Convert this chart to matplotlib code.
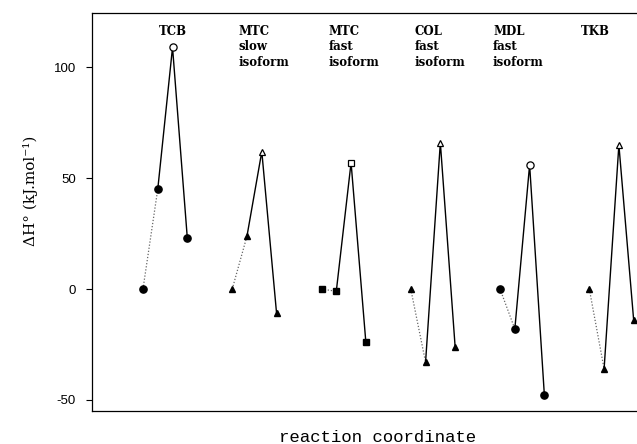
import matplotlib
matplotlib.use("Agg")
import matplotlib.pyplot as plt

# Data: enthalpy profile per enzyme, four states along the reaction coordinate
groups = ["TCB", "MTC\nslow\nisoform", "MTC\nfast\nisoform",
          "COL\nfast\nisoform", "MDL\nfast\nisoform", "TKB"]
tcb = [0, 45, 109, 23]
mtc_slow = [0, 24, 62, -11]
mtc_fast = [0, -1, 57, -24]
col_fast = [0, -33, 66, -26]
mdl_fast = [0, -18, 56, -48]
tkb = [0, -36, 65, -14]
series = [tcb, mtc_slow, mtc_fast, col_fast, mdl_fast, tkb]
markers = ["o", "^", "s", "^", "o", "^"]
yticks = [-50, 0, 50, 100]

# layout
group_gap = 6.04
label_x = [2.0, 8.2, 14.3, 20.1, 25.4, 30.6]
marker_sizes = {"o": 5.2, "^": 5.0, "s": 4.4}

fig = plt.figure(figsize=(6.37, 4.44), dpi=100)
ax = fig.add_axes([0.1444, 0.0743, 0.855, 0.8964])

for g, (vals, m) in enumerate(zip(series, markers)):
    xs = [g * group_gap + k for k in range(4)]
    ms = marker_sizes[m]
    ax.plot(xs[:2], vals[:2], color="#666666", lw=0.9, ls=(0, (1, 1.5)))
    ax.plot(xs[1:], vals[1:], color="black", lw=1.0, ls="-")
    for k in (0, 1, 3):
        ax.plot(xs[k], vals[k], marker=m, ms=ms, color="black", mfc="black",
                mec="black", ls="none", zorder=3)
    ax.plot(xs[2], vals[2], marker=m, ms=ms, color="black", mfc="white",
            mec="black", mew=0.9, ls="none", zorder=3)

for lx, txt in zip(label_x, groups):
    ax.text(lx, 119, txt, ha="center", va="top", multialignment="left",
            family="DejaVu Serif", fontsize=8.5, fontweight="bold",
            linespacing=1.22)

ax.set_xlim(-3.45, 33.4)
ax.set_ylim(-55, 124.5)
ax.set_yticks(yticks)
ax.set_yticklabels([str(t) for t in yticks], family="Liberation Sans", fontsize=9.5)
ax.tick_params(axis="y", direction="out", length=4.5, width=0.8, pad=7)
ax.set_xticks([])
ax.spines["right"].set_visible(False)
for s in ("left", "top", "bottom"):
    ax.spines[s].set_linewidth(0.9)

ax.set_ylabel("ΔH° (kJ.mol⁻¹)", family="DejaVu Serif", fontsize=11)
ax.yaxis.set_label_coords(-0.100, 0.553)
fig.text(0.592, 0.005, "reaction coordinate", ha="center", va="baseline",
         family="Liberation Mono", fontsize=12.5)

fig.savefig("out.png", dpi=100)
